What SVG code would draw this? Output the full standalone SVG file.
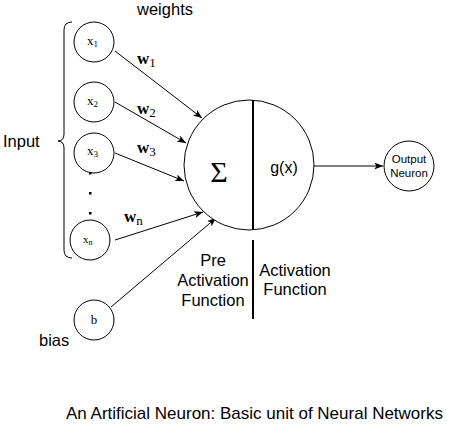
<svg xmlns="http://www.w3.org/2000/svg" width="458" height="437" viewBox="0 0 458 437">
<defs>
<marker id="arr" viewBox="0 0 10 8" refX="10" refY="4" markerWidth="9" markerHeight="7" markerUnits="userSpaceOnUse" orient="auto">
<path d="M0,0 L10,4 L0,8 L2.5,4 Z" fill="#000"/>
</marker>
<style>
.c{fill:#fff;stroke:#000;stroke-width:1}
.l{stroke:#000;stroke-width:1;fill:none;marker-end:url(#arr)}
.s{font-family:"Liberation Sans",Arial,sans-serif;fill:#000}
.m{font-family:"Liberation Serif","Times New Roman",serif;fill:#000}
.thick{stroke:#000;stroke-width:2}
</style>
</defs>
<rect width="458" height="437" fill="#fff"/>
<g id="connectors">
<line class="l" x1="115" y1="51" x2="202" y2="118"/>
<line class="l" x1="115" y1="102" x2="186" y2="143"/>
<line class="l" x1="115" y1="153" x2="184" y2="181"/>
<line class="l" x1="115" y1="240" x2="203" y2="212"/>
<line class="l" x1="111" y1="307" x2="216" y2="218"/>
<line class="l" x1="314" y1="166" x2="383" y2="166"/>
</g>
<g id="brace"><path d="M72,22 Q64,22 64,30 L64,134 Q64,141 58,141 Q64,141 64,148 L64,250 Q64,258 72,258" fill="none" stroke="#000" stroke-width="1"/></g>
<g id="x1"><circle class="c" cx="94" cy="42" r="20"/><text class="m" x="87" y="45" font-size="13">x<tspan font-size="9" dy="2">1</tspan></text></g>
<g id="x2"><circle class="c" cx="94" cy="102" r="20"/><text class="m" x="87" y="105" font-size="13">x<tspan font-size="9" dy="2">2</tspan></text></g>
<g id="x3"><circle class="c" cx="94" cy="153" r="20"/><text class="m" x="87" y="155" font-size="13">x<tspan font-size="9" dy="2">3</tspan></text></g>
<g id="dots" fill="#000"><rect x="89" y="172" width="2.5" height="2.5"/><rect x="89" y="192" width="2.5" height="2.5"/><rect x="89" y="212" width="2.5" height="2.5"/></g>
<g id="xn"><circle class="c" cx="90" cy="240" r="20"/><text class="m" x="83" y="243" font-size="11" fill="#333">x<tspan font-size="8" dy="2">n</tspan></text></g>
<g id="bias"><circle class="c" cx="94" cy="320" r="20"/><text class="m" x="94" y="324" font-size="13" text-anchor="middle">b</text></g>
<g id="neuron"><circle class="c" cx="249" cy="165" r="65"/><line class="thick" x1="253" y1="100" x2="253" y2="230"/>
<text class="m" x="219" y="182" font-size="30" text-anchor="middle">Σ</text>
<text class="s" x="284" y="173" text-anchor="middle" style="font-size:16px">g(x)</text></g>
<g id="output"><circle class="c" cx="409" cy="166" r="25"/>
<text class="s" x="409" y="163" text-anchor="middle" style="font-size:11.5px">Output</text>
<text class="s" x="409" y="177" text-anchor="middle" style="font-size:11.5px">Neuron</text></g>
<g id="weights-labels">
<text class="m" x="137" y="64" font-size="17" font-weight="bold">w<tspan font-size="13" font-weight="normal" dy="3">1</tspan></text>
<text class="m" x="137" y="114" font-size="17" font-weight="bold">w<tspan font-size="13" font-weight="normal" dy="3">2</tspan></text>
<text class="m" x="137" y="153" font-size="17" font-weight="bold">w<tspan font-size="13" font-weight="normal" dy="3">3</tspan></text>
<text class="m" x="124" y="222" font-size="17" font-weight="bold">w<tspan font-size="13" font-weight="normal" dy="3">n</tspan></text>
</g>
<line class="thick" x1="253" y1="240" x2="253" y2="319"/>
<text class="s" x="165" y="15" text-anchor="middle" style="font-size:16.5px">weights</text>
<text class="s" x="3" y="147" style="font-size:16.5px">Input</text>
<text class="s" x="39" y="346" style="font-size:16.5px">bias</text>
<text class="s" text-anchor="middle" style="font-size:16.5px"><tspan x="213" y="266">Pre</tspan><tspan x="213" y="286">Activation</tspan><tspan x="213" y="306">Function</tspan></text>
<text class="s" text-anchor="middle" style="font-size:16.5px"><tspan x="295" y="276">Activation</tspan><tspan x="295" y="295">Function</tspan></text>
<text class="s" x="254.5" y="419" text-anchor="middle" style="font-size:17px">An Artificial Neuron: Basic unit of Neural Networks</text>
</svg>
